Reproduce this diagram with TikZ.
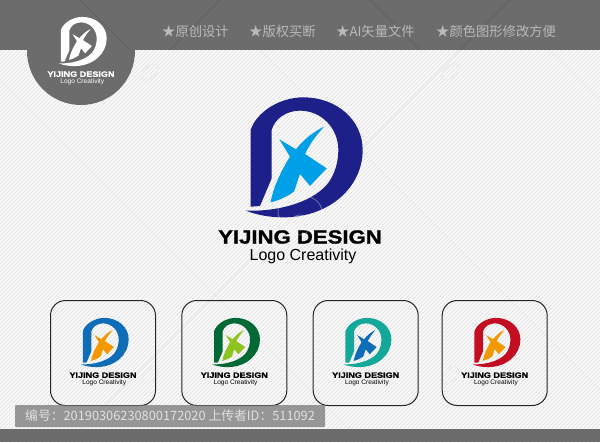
\documentclass[tikz,border=0pt]{standalone}
\usepackage{fontspec}
\setmainfont{Liberation Sans}
\newfontfamily\cjkfont{Noto Sans CJK SC}
\newfontfamily\brandfont[FakeBold=1.2]{Liberation Sans Bold}
\definecolor{bandgray}{HTML}{6C6C6C}
\definecolor{hatchgray}{HTML}{E6E6E6}
\definecolor{headtext}{HTML}{BABABA}
\definecolor{navyD}{HTML}{1D2088}
\definecolor{skyX}{HTML}{00A0E9}
\definecolor{blueD}{HTML}{0F6DB8}
\definecolor{orangeX}{HTML}{F39800}
\definecolor{greenD}{HTML}{006934}
\definecolor{limeX}{HTML}{8FC31F}
\definecolor{tealD}{HTML}{13A89A}
\definecolor{redD}{HTML}{C30D23}
\tikzset{
  boxframe/.style={draw=black!85,line width=1pt,rounded corners=15pt,fill=none},
  faint/.style={draw=black!9,line width=0.5pt},
  faintdark/.style={draw=black,opacity=.12,line width=0.6pt},
  blot/.style={draw=black!7,line width=1.2pt},
  headlabel/.style={text=headtext,font=\cjkfont\fontsize{13.3}{16}\selectfont,anchor=west,inner sep=0pt},
  brandtext/.style={font=\brandfont\fontsize{19}{20}\selectfont,inner sep=0pt,transform shape},
  subtext/.style={font=\fontsize{16}{18}\selectfont,inner sep=0pt,transform shape}
}
\newcommand{\logomark}[7]{%
\begin{scope}[shift={(#1,#2)},scale=#3]
  \begin{scope}[shift={(220,80)},scale=1/3]
    \fill[#4] (92,380) -- (92,150) .. controls (110,95) and (180,52) .. (250,52)
      .. controls (350,52) and (428,120) .. (428,210)
      .. controls (428,320) and (330,412) .. (190,412)
      .. controls (150,412) and (110,405) .. (78,392)
      .. controls (170,395) and (270,370) .. (320,315)
      .. controls (345,285) and (355,245) .. (355,210)
      .. controls (355,145) and (305,92) .. (240,92)
      .. controls (200,92) and (165,115) .. (155,150)
      -- (155,295) -- (120,378) -- cycle;
    \fill[#5] (312,140) .. controls (285,170) and (268,195) .. (255,222)
      -- (320,265) -- (270,318) -- (240,282) -- (222,335)
      .. controls (200,350) and (175,362) .. (152,367)
      .. controls (160,320) and (185,270) .. (210,230)
      -- (178,178) -- (228,208)
      .. controls (250,180) and (280,155) .. (312,140) -- cycle;
  \end{scope}
  \node[brandtext,text=#6] (#7brand) at (300,237) {\scalebox{1.165}[1]{YIJING DESIGN}};
  \node[subtext,text=#6] (#7sub) at (303,256.5) {Logo Creativity};
\end{scope}}
\begin{document}
\begin{tikzpicture}[x=1pt,y=-1pt]
\useasboundingbox (0,0) rectangle (600,442);
\fill[white] (0,0) rectangle (600,442);
\begin{scope}
  \clip (0,0) rectangle (600,442);
  \foreach \k in {0,4,...,1044} {\draw[hatchgray,line width=1.3pt] (\k,0) -- (\k-442,442);}
  \foreach \a in {-160,130,420} {\draw[faint] (\a+80,0) -- (\a+522,442);}
  \foreach \a in {220,510,800} {\draw[faint] (\a,0) -- (\a-442,442);}
  \foreach \p in {(150,72),(450,72),(150,375),(450,375)} {\draw[blot,rotate around={45:\p}] \p ellipse (10 and 6);}
\end{scope}
\fill[bandgray] (0,0) rectangle (600,50);
\fill[bandgray] (81,51) circle (54);
\fill[bandgray] (0,429) rectangle (600,442);
\draw[faintdark] (80,0) -- (130,50);
\draw[faintdark] (220,0) -- (170,50);
\draw[faintdark] (510,0) -- (460,50);
\draw[faintdark] (370,0) -- (420,50);
\logomark{-42}{-23}{0.41}{white}{white}{white}{head}
\node[headlabel] (h1) at (162,31) {★原创设计};
\node[headlabel] (h2) at (249,31) {★版权买断};
\node[headlabel] (h3) at (336,31) {★AI矢量文件};
\node[headlabel] (h4) at (436,31) {★颜色图形修改方便};
\logomark{0}{0}{1}{navyD}{skyX}{black}{main}
\draw[white,opacity=.3,line width=1pt] (300,212) ellipse (22 and 17);
\draw[white,opacity=.3,line width=1pt] (300,225) circle (10);
\node[boxframe,minimum width=105pt,minimum height=105pt] (b1) at (103,353) {};
\node[boxframe,minimum width=105pt,minimum height=105pt] (b2) at (234.3,353) {};
\node[boxframe,minimum width=105pt,minimum height=105pt] (b3) at (365.7,353) {};
\node[boxframe,minimum width=105pt,minimum height=105pt] (b4) at (494.7,353) {};
\logomark{-20}{278}{0.41}{blueD}{orangeX}{black}{a}
\logomark{111.3}{278}{0.41}{greenD}{limeX}{black}{b}
\logomark{242.7}{278}{0.41}{tealD}{blueD}{black}{c}
\logomark{371.7}{278}{0.41}{redD}{orangeX}{black}{d}
\fill[black!55,opacity=.72,rounded corners=1pt] (15,405) rectangle (325,427);
\node[anchor=west,inner sep=0pt,text=white!88!black,font=\cjkfont\fontsize{12.8}{14}\selectfont] (idtext) at (25,416) {编号：20190306230800172020 上传者ID：511092};
\end{tikzpicture}
\end{document}
